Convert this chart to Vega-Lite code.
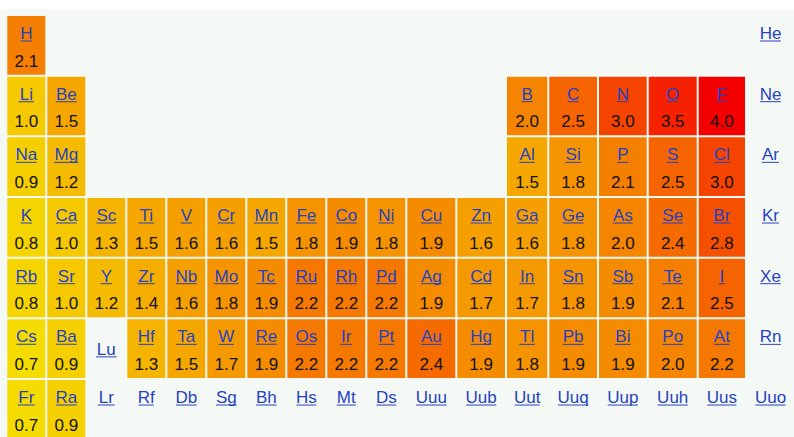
{
  "$schema": "https://vega.github.io/schema/vega-lite/v6.json",
  "width": 794,
  "height": 437,
  "autosize": {"type": "fit", "contains": "padding"},
  "padding": {"top": 9, "left": 0, "right": 0, "bottom": 0},
  "background": "#ffffff",
  "config": {"view": {"stroke": null, "fill": "#f5f9f5"}, "text": {"font": "Liberation Sans", "fontSize": 17}},
  "data": {"values": [
    {"symbol": "H", "group": 1, "period": 1, "en": 2.1},
    {"symbol": "He", "group": 18, "period": 1, "en": null},
    {"symbol": "Li", "group": 1, "period": 2, "en": 1.0},
    {"symbol": "Be", "group": 2, "period": 2, "en": 1.5},
    {"symbol": "B", "group": 13, "period": 2, "en": 2.0},
    {"symbol": "C", "group": 14, "period": 2, "en": 2.5},
    {"symbol": "N", "group": 15, "period": 2, "en": 3.0},
    {"symbol": "O", "group": 16, "period": 2, "en": 3.5},
    {"symbol": "F", "group": 17, "period": 2, "en": 4.0},
    {"symbol": "Ne", "group": 18, "period": 2, "en": null},
    {"symbol": "Na", "group": 1, "period": 3, "en": 0.9},
    {"symbol": "Mg", "group": 2, "period": 3, "en": 1.2},
    {"symbol": "Al", "group": 13, "period": 3, "en": 1.5},
    {"symbol": "Si", "group": 14, "period": 3, "en": 1.8},
    {"symbol": "P", "group": 15, "period": 3, "en": 2.1},
    {"symbol": "S", "group": 16, "period": 3, "en": 2.5},
    {"symbol": "Cl", "group": 17, "period": 3, "en": 3.0},
    {"symbol": "Ar", "group": 18, "period": 3, "en": null},
    {"symbol": "K", "group": 1, "period": 4, "en": 0.8},
    {"symbol": "Ca", "group": 2, "period": 4, "en": 1.0},
    {"symbol": "Sc", "group": 3, "period": 4, "en": 1.3},
    {"symbol": "Ti", "group": 4, "period": 4, "en": 1.5},
    {"symbol": "V", "group": 5, "period": 4, "en": 1.6},
    {"symbol": "Cr", "group": 6, "period": 4, "en": 1.6},
    {"symbol": "Mn", "group": 7, "period": 4, "en": 1.5},
    {"symbol": "Fe", "group": 8, "period": 4, "en": 1.8},
    {"symbol": "Co", "group": 9, "period": 4, "en": 1.9},
    {"symbol": "Ni", "group": 10, "period": 4, "en": 1.8},
    {"symbol": "Cu", "group": 11, "period": 4, "en": 1.9},
    {"symbol": "Zn", "group": 12, "period": 4, "en": 1.6},
    {"symbol": "Ga", "group": 13, "period": 4, "en": 1.6},
    {"symbol": "Ge", "group": 14, "period": 4, "en": 1.8},
    {"symbol": "As", "group": 15, "period": 4, "en": 2.0},
    {"symbol": "Se", "group": 16, "period": 4, "en": 2.4},
    {"symbol": "Br", "group": 17, "period": 4, "en": 2.8},
    {"symbol": "Kr", "group": 18, "period": 4, "en": null},
    {"symbol": "Rb", "group": 1, "period": 5, "en": 0.8},
    {"symbol": "Sr", "group": 2, "period": 5, "en": 1.0},
    {"symbol": "Y", "group": 3, "period": 5, "en": 1.2},
    {"symbol": "Zr", "group": 4, "period": 5, "en": 1.4},
    {"symbol": "Nb", "group": 5, "period": 5, "en": 1.6},
    {"symbol": "Mo", "group": 6, "period": 5, "en": 1.8},
    {"symbol": "Tc", "group": 7, "period": 5, "en": 1.9},
    {"symbol": "Ru", "group": 8, "period": 5, "en": 2.2},
    {"symbol": "Rh", "group": 9, "period": 5, "en": 2.2},
    {"symbol": "Pd", "group": 10, "period": 5, "en": 2.2},
    {"symbol": "Ag", "group": 11, "period": 5, "en": 1.9},
    {"symbol": "Cd", "group": 12, "period": 5, "en": 1.7},
    {"symbol": "In", "group": 13, "period": 5, "en": 1.7},
    {"symbol": "Sn", "group": 14, "period": 5, "en": 1.8},
    {"symbol": "Sb", "group": 15, "period": 5, "en": 1.9},
    {"symbol": "Te", "group": 16, "period": 5, "en": 2.1},
    {"symbol": "I", "group": 17, "period": 5, "en": 2.5},
    {"symbol": "Xe", "group": 18, "period": 5, "en": null},
    {"symbol": "Cs", "group": 1, "period": 6, "en": 0.7},
    {"symbol": "Ba", "group": 2, "period": 6, "en": 0.9},
    {"symbol": "Lu", "group": 3, "period": 6, "en": null},
    {"symbol": "Hf", "group": 4, "period": 6, "en": 1.3},
    {"symbol": "Ta", "group": 5, "period": 6, "en": 1.5},
    {"symbol": "W", "group": 6, "period": 6, "en": 1.7},
    {"symbol": "Re", "group": 7, "period": 6, "en": 1.9},
    {"symbol": "Os", "group": 8, "period": 6, "en": 2.2},
    {"symbol": "Ir", "group": 9, "period": 6, "en": 2.2},
    {"symbol": "Pt", "group": 10, "period": 6, "en": 2.2},
    {"symbol": "Au", "group": 11, "period": 6, "en": 2.4},
    {"symbol": "Hg", "group": 12, "period": 6, "en": 1.9},
    {"symbol": "Tl", "group": 13, "period": 6, "en": 1.8},
    {"symbol": "Pb", "group": 14, "period": 6, "en": 1.9},
    {"symbol": "Bi", "group": 15, "period": 6, "en": 1.9},
    {"symbol": "Po", "group": 16, "period": 6, "en": 2.0},
    {"symbol": "At", "group": 17, "period": 6, "en": 2.2},
    {"symbol": "Rn", "group": 18, "period": 6, "en": null},
    {"symbol": "Fr", "group": 1, "period": 7, "en": 0.7},
    {"symbol": "Ra", "group": 2, "period": 7, "en": 0.9},
    {"symbol": "Lr", "group": 3, "period": 7, "en": null},
    {"symbol": "Rf", "group": 4, "period": 7, "en": null},
    {"symbol": "Db", "group": 5, "period": 7, "en": null},
    {"symbol": "Sg", "group": 6, "period": 7, "en": null},
    {"symbol": "Bh", "group": 7, "period": 7, "en": null},
    {"symbol": "Hs", "group": 8, "period": 7, "en": null},
    {"symbol": "Mt", "group": 9, "period": 7, "en": null},
    {"symbol": "Ds", "group": 10, "period": 7, "en": null},
    {"symbol": "Uuu", "group": 11, "period": 7, "en": null},
    {"symbol": "Uub", "group": 12, "period": 7, "en": null},
    {"symbol": "Uut", "group": 13, "period": 7, "en": null},
    {"symbol": "Uuq", "group": 14, "period": 7, "en": null},
    {"symbol": "Uup", "group": 15, "period": 7, "en": null},
    {"symbol": "Uuh", "group": 16, "period": 7, "en": null},
    {"symbol": "Uus", "group": 17, "period": 7, "en": null},
    {"symbol": "Uuo", "group": 18, "period": 7, "en": null}
  ]},
  "transform": [
    {"calculate": "datum.group - 1", "as": "g0"},
    {"calculate": "datum.group - 0.5", "as": "gc"},
    {"calculate": "datum.period - 1", "as": "p0"},
    {"calculate": "datum.en == null ? '' : format(datum.en, '.1f')", "as": "enLabel"},
    {"calculate": "17 * (0.556 * length(datum.symbol) + 0.11 * (length(datum.symbol) - length(replace(datum.symbol, regexp('[A-Z]', 'g'), ''))) - 0.31 * (length(datum.symbol) - length(replace(datum.symbol, regexp('[ilIft]', 'g'), ''))) - 0.22 * (length(datum.symbol) - length(replace(datum.symbol, regexp('r', 'g'), ''))) - 0.056 * (length(datum.symbol) - length(replace(datum.symbol, regexp('[csy]', 'g'), ''))) + 0.22 * (length(datum.symbol) - length(replace(datum.symbol, regexp('[MmW]', 'g'), ''))))", "as": "uw"},
    {"calculate": "datum.symbol == 'Lu' ? 'middle' : 'top'", "as": "place"}
  ],
  "layer": [
    {
      "transform": [{"filter": "datum.en != null"}],
      "mark": {"type": "rect", "x2Offset": -2, "y2Offset": -2},
      "encoding": {
        "x": {"field": "g0", "type": "quantitative", "axis": null,
              "scale": {"domain": [0,1,2,3,4,5,6,7,8,9,10,11,12,13,14,15,16,17,18],
                        "range": [7.3,47.3,87.3,127.3,167.3,207.3,247.3,287.3,327.3,367.3,407.3,457.3,507,549.3,599,648.7,698.7,747,796],
                        "nice": false, "zero": false}},
        "x2": {"field": "group"},
        "y": {"field": "p0", "type": "quantitative", "axis": null,
              "scale": {"domain": [0, 7], "range": [7, 431.7], "nice": false, "zero": false}},
        "y2": {"field": "period"},
        "color": {"field": "en", "type": "quantitative", "legend": null,
                  "scale": {"domain": [0.7, 4.0], "range": ["#f5dc00", "#f50000"], "interpolate": "rgb"}}
      }
    },
    {
      "transform": [{"filter": "datum.place == 'top'"}],
      "mark": {"type": "text", "baseline": "alphabetic", "align": "center", "dy": 23, "dx": -1, "color": "#2642c2"},
      "encoding": {
        "x": {"field": "gc", "type": "quantitative"},
        "y": {"field": "p0", "type": "quantitative"},
        "text": {"field": "symbol"}
      }
    },
    {
      "transform": [{"filter": "datum.place == 'middle'"}],
      "mark": {"type": "text", "baseline": "alphabetic", "align": "center", "dy": 35.5, "dx": -1, "color": "#2642c2"},
      "encoding": {
        "x": {"field": "gc", "type": "quantitative"},
        "y": {"field": "p0", "type": "quantitative"},
        "text": {"field": "symbol"}
      }
    },
    {
      "transform": [{"filter": "datum.place == 'top'"}],
      "mark": {"type": "tick", "orient": "horizontal", "thickness": 1, "opacity": 1, "xOffset": -1, "yOffset": 25, "color": "#2642c2"},
      "encoding": {
        "x": {"field": "gc", "type": "quantitative"},
        "y": {"field": "p0", "type": "quantitative"},
        "size": {"field": "uw", "type": "quantitative", "scale": null}
      }
    },
    {
      "transform": [{"filter": "datum.place == 'middle'"}],
      "mark": {"type": "tick", "orient": "horizontal", "thickness": 1, "opacity": 1, "xOffset": -1, "yOffset": 37.5, "color": "#2642c2"},
      "encoding": {
        "x": {"field": "gc", "type": "quantitative"},
        "y": {"field": "p0", "type": "quantitative"},
        "size": {"field": "uw", "type": "quantitative", "scale": null}
      }
    },
    {
      "transform": [{"filter": "datum.en != null"}],
      "mark": {"type": "text", "baseline": "alphabetic", "align": "center", "dy": 50.5, "dx": -1, "color": "#111111"},
      "encoding": {
        "x": {"field": "gc", "type": "quantitative"},
        "y": {"field": "p0", "type": "quantitative"},
        "text": {"field": "enLabel"}
      }
    }
  ]
}
